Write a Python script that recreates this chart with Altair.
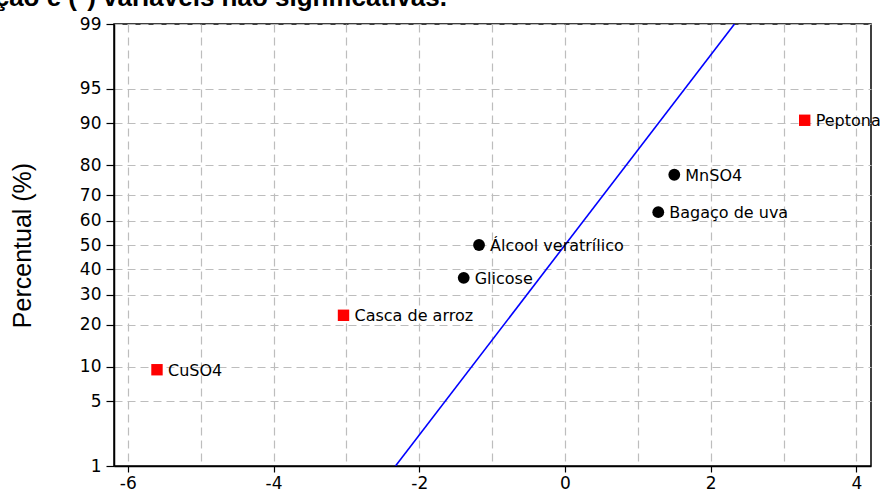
import altair as alt
import pandas as pd
from statistics import NormalDist

# Standardized effects and their normal-plot percentiles
factors = ["CuSO4", "Casca de arroz", "Glicose", "Álcool veratrílico",
           "Bagaço de uva", "MnSO4", "Peptona"]
effects = [-5.60, -3.04, -1.39, -1.18, 1.28, 1.50, 3.29]
percents = [9.46, 22.97, 36.49, 50.0, 63.51, 77.03, 90.54]
significant = [True, True, False, False, False, False, True]

# Reference line of the normal distribution (percent at both ends)
line_pct = [1, 99]

# Probability axis tick labels (percent) and effect axis grid values
y_ticks_pct = [1, 5, 10, 20, 30, 40, 50, 60, 70, 80, 90, 95, 99]
x_ticks = list(range(-6, 5))

caption = "(■) variáveis significativas na produção e (*) variáveis não significativas."

nd = NormalDist()
y_tick_z = [nd.inv_cdf(p / 100) for p in y_ticks_pct]
y_lo, y_hi = y_tick_z[0], y_tick_z[-1]

W, H = 757, 442
PAD_L, PAD_T = 114, 24

pts = pd.DataFrame({"fator": factors, "efeito": effects, "pct": percents,
                    "sig": significant})
ref = pd.DataFrame({"pct": line_pct})
cap = pd.DataFrame({"txt": [caption]})

x_scale = alt.Scale(domain=[-6.19, 4.2], nice=False, zero=False)
y_scale = alt.Scale(domain=[y_lo, y_hi], nice=False, zero=False)

x_axis = alt.Axis(
    values=x_ticks, tickCount=len(x_ticks) + 5, title=None, grid=True,
    gridColor="#bdbdbd", gridDash=[8, 5], gridWidth=1.2,
    labelExpr="datum.value % 2 === 0 ? '' + datum.value : ''",
    tickOpacity={"condition": {"test": "datum.value % 2 !== 0", "value": 0}, "value": 1},
    labelFont="DejaVu Sans", labelFontSize=17, labelColor="black",
    labelPadding=3, tickSize=6, tickColor="black", tickWidth=1.2,
    labelOverlap=False, labelFlush=False,
    domainColor="black", domainWidth=1.5,
)
y_axis = alt.Axis(
    values=y_tick_z, tickCount=len(y_tick_z) + 5, title="Percentual (%)", grid=True,
    gridColor="#bdbdbd", gridDash=[8, 5], gridWidth=1.2,
    labelExpr="format(cumulativeNormal(datum.value) * 100, '.0f')",
    labelFont="DejaVu Sans", labelFontSize=17, labelColor="black",
    labelPadding=5, tickSize=8, tickColor="black", tickWidth=1.2,
    labelOverlap=False, labelFlush=False,
    domainColor="black", domainWidth=1.5,
    titleFont="Liberation Sans", titleFontSize=25, titleFontWeight="normal",
    titleColor="black", titleAngle=270, titleAlign="center", titleBaseline="middle",
    titleX=-92, titleY=H / 2,
)

z_calc = "quantileNormal(datum.pct / 100)"

line = alt.Chart(ref).transform_calculate(z=z_calc).mark_line(
    color="#0000ff", strokeWidth=1.6, clip=True
).encode(
    x=alt.X("z:Q", scale=x_scale, axis=x_axis),
    y=alt.Y("z:Q", scale=y_scale, axis=y_axis),
)

base = alt.Chart(pts).transform_calculate(z=z_calc)

sq = base.transform_filter("datum.sig").mark_square(
    color="#ff0000", size=130, opacity=1
).encode(x=alt.X("efeito:Q", scale=x_scale), y=alt.Y("z:Q", scale=y_scale))

dots = base.transform_filter("!datum.sig").mark_circle(
    color="black", size=140, opacity=1
).encode(x=alt.X("efeito:Q", scale=x_scale), y=alt.Y("z:Q", scale=y_scale))

labels = base.mark_text(
    align="left", baseline="middle", dx=11, dy=1,
    font="DejaVu Sans", fontSize=16, color="black"
).encode(x=alt.X("efeito:Q", scale=x_scale), y=alt.Y("z:Q", scale=y_scale),
         text="fator:N")

title_txt = alt.Chart(cap).mark_text(
    align="right", baseline="alphabetic", font="Liberation Sans",
    fontSize=26, fontWeight="bold", color="black"
).encode(x=alt.value(447 - PAD_L), y=alt.value(6 - PAD_T), text="txt:N")

chart = alt.layer(line, sq, dots, labels, title_txt).properties(
    width=W, height=H,
    autosize=alt.AutoSizeParams(type="none"),
    padding={"left": PAD_L, "top": PAD_T, "right": 888 - PAD_L - W, "bottom": 497 - PAD_T - H},
    background="white",
).configure_view(stroke="black", strokeWidth=1.5)

chart.save("out.html", embed_options={"renderer": "svg", "actions": False})
